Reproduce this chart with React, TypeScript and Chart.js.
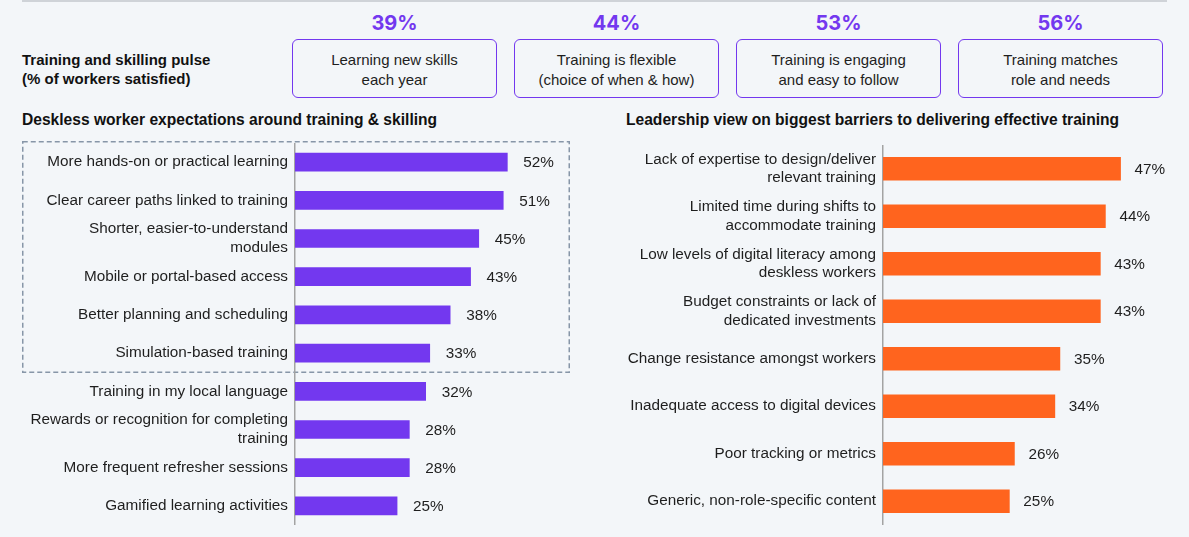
import React, { useEffect, useRef } from "react";
import { Chart } from "chart.js/auto";

// ---------- data ----------
const pulseTitle = ["Training and skilling pulse", "(% of workers satisfied)"];
const pulseLabels = [
  ["Learning new skills", "each year"],
  ["Training is flexible", "(choice of when & how)"],
  ["Training is engaging", "and easy to follow"],
  ["Training matches", "role and needs"],
];
const pulseValues = [39, 44, 53, 56];

const workerTitle = "Deskless worker expectations around training & skilling";
const workerLabels: (string | string[])[] = [
  "More hands-on or practical learning",
  "Clear career paths linked to training",
  ["Shorter, easier-to-understand", "modules"],
  "Mobile or portal-based access",
  "Better planning and scheduling",
  "Simulation-based training",
  "Training in my local language",
  ["Rewards or recognition for completing", "training"],
  "More frequent refresher sessions",
  "Gamified learning activities",
];
const workerValues = [52, 51, 45, 43, 38, 33, 32, 28, 28, 25];

const leaderTitle = "Leadership view on biggest barriers to delivering effective training";
const leaderLabels: (string | string[])[] = [
  ["Lack of expertise to design/deliver", "relevant training"],
  ["Limited time during shifts to", "accommodate training"],
  ["Low levels of digital literacy among", "deskless workers"],
  ["Budget constraints or lack of", "dedicated investments"],
  "Change resistance amongst workers",
  "Inadequate access to digital devices",
  "Poor tracking or metrics",
  "Generic, non-role-specific content",
];
const leaderValues = [47, 44, 43, 43, 35, 34, 26, 25];

// ---------- styles ----------
const BG = "#f3f6f9";
const PURPLE = "#7338ef";
const ORANGE = "#ff641e";
const TEXT = "#1e1e1e";
const SANS = '"Liberation Sans", Arial, Helvetica, sans-serif';
const INTER = 'Inter, "Liberation Sans", Arial, sans-serif';

type BarProps = {
  labels: (string | string[])[];
  values: number[];
  color: string;
  left: number;
  top: number;
  width: number;
  height: number;
  axisWidth: number;
  max: number;
  padRight: number;
  thickness: number;
  gap: number;
};

function BarChart(p: BarProps) {
  const ref = useRef<HTMLCanvasElement | null>(null);
  useEffect(() => {
    if (!ref.current) return;
    const valuePlugin = {
      id: "valueLabels",
      afterDatasetsDraw(chart: any) {
        const ctx = chart.ctx;
        const meta = chart.getDatasetMeta(0);
        ctx.save();
        ctx.font = `15.3px ${SANS}`;
        ctx.fillStyle = TEXT;
        ctx.textBaseline = "middle";
        ctx.textAlign = "left";
        meta.data.forEach((bar: any, i: number) => {
          const v = chart.data.datasets[0].data[i];
          ctx.fillText(`${v}%`, bar.x + p.gap, bar.y + 1);
        });
        ctx.restore();
      },
    };
    const chart = new Chart(ref.current, {
      type: "bar",
      data: {
        labels: p.labels,
        datasets: [
          {
            data: p.values,
            backgroundColor: p.color,
            borderWidth: 0,
            barThickness: p.thickness,
          },
        ],
      },
      options: {
        indexAxis: "y",
        responsive: false,
        animation: false,
        layout: { autoPadding: false, padding: { left: 0, right: p.padRight, top: 0, bottom: 0 } },
        plugins: { legend: { display: false }, tooltip: { enabled: false } },
        scales: {
          x: { display: false, min: 0, max: p.max },
          y: {
            grid: { display: false, drawTicks: false },
            border: { display: true, color: "#a3a3a3", width: 1.5 },
            ticks: {
              color: TEXT,
              padding: 7,
              autoSkip: false,
              font: { family: SANS, size: 15.3, lineHeight: 1.22 },
            },
            afterFit: (s: any) => {
              s.width = p.axisWidth;
              s.paddingTop = 0;
              s.paddingBottom = 0;
            },
          },
        },
      },
      plugins: [valuePlugin],
    } as any);
    return () => chart.destroy();
  }, []);
  return (
    <canvas
      ref={ref}
      width={p.width}
      height={p.height}
      style={{ position: "absolute", left: p.left, top: p.top, width: p.width, height: p.height }}
    />
  );
}

const boxLefts = [292, 514, 736, 958];

export default function App() {
  useEffect(() => {
    document.body.style.margin = "0";
    document.body.style.background = BG;
  }, []);
  return (
    <div style={{ position: "relative", width: 1189, height: 537, background: BG, overflow: "hidden" }}>
      <div style={{ position: "absolute", left: 22, top: 0, width: 1145, height: 2, background: "#cfd3d8" }} />

      <div
        style={{
          position: "absolute",
          left: 22,
          top: 50,
          font: `bold 15px/19px ${SANS}`,
          color: "#111",
        }}
      >
        {pulseTitle.map((t, i) => (
          <div key={i}>{t}</div>
        ))}
      </div>

      {pulseValues.map((v, i) => (
        <React.Fragment key={i}>
          <div
            style={{
              position: "absolute",
              left: boxLefts[i],
              width: 205,
              top: 10,
              textAlign: "center",
              font: `bold 20px/26px ${INTER}`,
              color: PURPLE,
            }}
          >
            {v}%
          </div>
          <div
            style={{
              position: "absolute",
              left: boxLefts[i],
              top: 39,
              width: 205,
              height: 59,
              boxSizing: "border-box",
              border: `1.5px solid ${PURPLE}`,
              borderRadius: 6,
              paddingTop: 3,
              display: "flex",
              flexDirection: "column",
              justifyContent: "center",
              alignItems: "center",
              font: `15px/20px ${SANS}`,
              color: TEXT,
            }}
          >
            {pulseLabels[i].map((t, j) => (
              <div key={j}>{t}</div>
            ))}
          </div>
        </React.Fragment>
      ))}

      <div style={{ position: "absolute", left: 22, top: 110, font: `bold 15.6px/20px ${SANS}`, color: "#111" }}>
        {workerTitle}
      </div>
      <div style={{ position: "absolute", left: 626, top: 110, font: `bold 15.6px/20px ${SANS}`, color: "#111" }}>
        {leaderTitle}
      </div>

      <svg
        width={552}
        height={236}
        style={{ position: "absolute", left: 20, top: 139 }}
      >
        <rect
          x={2.75}
          y={2.75}
          width={546.5}
          height={230.5}
          fill="none"
          stroke="#8796a8"
          strokeWidth={1.5}
          strokeDasharray="5 3"
        />
      </svg>

      <BarChart
        labels={workerLabels}
        values={workerValues}
        color={PURPLE}
        left={22}
        top={143}
        width={548}
        height={382}
        axisWidth={273}
        max={60}
        padRight={30}
        thickness={18}
        gap={16}
      />
      <BarChart
        labels={leaderLabels}
        values={leaderValues}
        color={ORANGE}
        left={600}
        top={145}
        width={589}
        height={380}
        axisWidth={283}
        max={55}
        padRight={28}
        thickness={23}
        gap={14}
      />
    </div>
  );
}
